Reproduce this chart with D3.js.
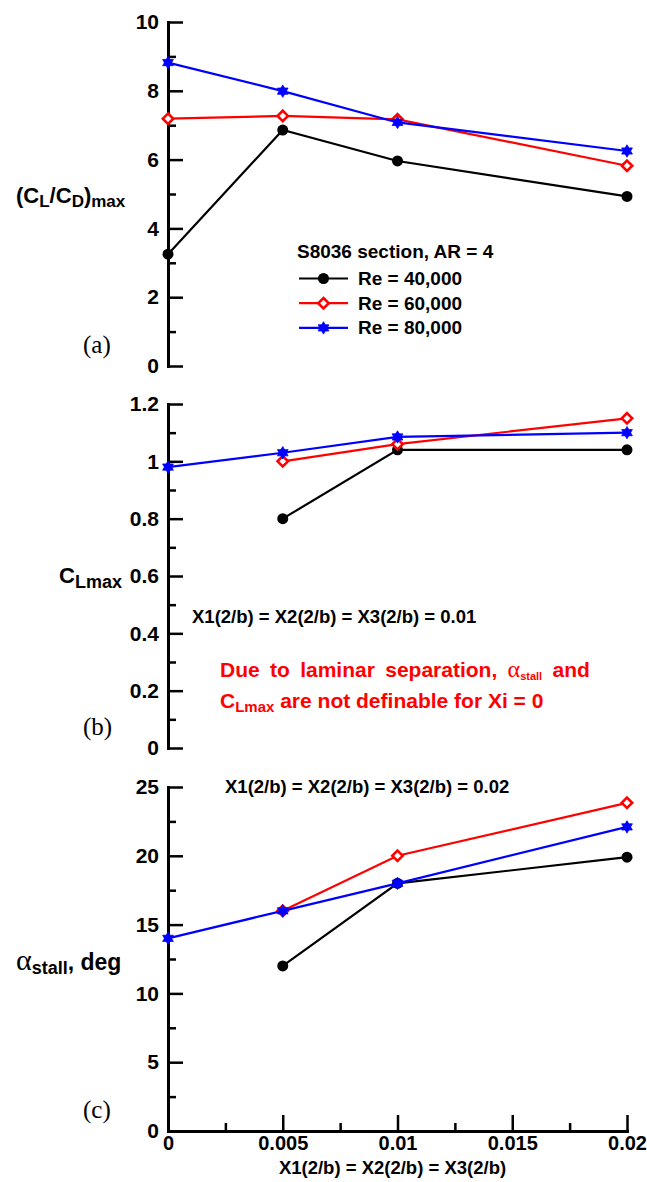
<!DOCTYPE html>
<html>
<head>
<meta charset="utf-8">
<script src="https://cdn.jsdelivr.net/npm/d3@7"></script>
<style>
  body { margin: 0; background: #fff; }
  svg { display: block; }
  text { font-family: "Liberation Sans", Arial, sans-serif; font-weight: bold; fill: #000; }
</style>
</head>
<body>
<svg id="chart" width="647" height="1182"></svg>
<script>
// Trip spacing values (shared x for all panels)
const xValues = [0, 0.005, 0.01, 0.02];
const seriesNames = ["Re = 40,000", "Re = 60,000", "Re = 80,000"];

// (a) maximum lift-to-drag ratio
const ldMax40 = [3.25, 6.86, 5.96, 4.93];
const ldMax60 = [7.19, 7.27, 7.17, 5.82];
const ldMax80 = [8.82, 7.99, 7.08, 6.25];

// (b) maximum lift coefficient (undefined at Xi = 0 for the two lower Re)
const clMax40 = [null, 0.80, 1.04, 1.04];
const clMax60 = [null, 1.00, 1.06, 1.15];
const clMax80 = [0.98, 1.03, 1.085, 1.10];

// (c) stall angle, deg
const aStall40 = [null, 12.0, 18.0, 19.9];
const aStall60 = [null, 16.0, 20.0, 23.85];
const aStall80 = [14.0, 16.0, 18.0, 22.1];

// Axis ticks
const xTicks = [0, 0.005, 0.01, 0.015, 0.02];
const xTickLabels = ["0", "0.005", "0.01", "0.015", "0.02"];
const xMinorTicks = [0.0025, 0.0075, 0.0125, 0.0175];
const ldTicks = [0, 2, 4, 6, 8, 10];
const ldTickLabels = ["0", "2", "4", "6", "8", "10"];
const ldMinorTicks = [1, 3, 5, 7, 9];
const clTicks = [0, 0.2, 0.4, 0.6, 0.8, 1.0, 1.2];
const clTickLabels = ["0", "0.2", "0.4", "0.6", "0.8", "1", "1.2"];
const clMinorTicks = [0.1, 0.3, 0.5, 0.7, 0.9, 1.1];
const aTicks = [0, 5, 10, 15, 20, 25];
const aTickLabels = ["0", "5", "10", "15", "20", "25"];
const aMinorTicks = [2.5, 7.5, 12.5, 17.5, 22.5];

const svg = d3.select("#chart");
const x = d3.scaleLinear().domain([0, 0.02]).range([168, 627]);

const styles = [
  { color: "#000000", marker: "circle" },
  { color: "#ff0000", marker: "diamond" },
  { color: "#0000ff", marker: "star" }
];

const panels = [
  { tag: "(a)", range: [366, 22], domain: [0, 10], ticks: ldTicks, labels: ldTickLabels, minor: ldMinorTicks,
    series: [ldMax40, ldMax60, ldMax80], xAxis: false },
  { tag: "(b)", range: [748, 404], domain: [0, 1.2], ticks: clTicks, labels: clTickLabels, minor: clMinorTicks,
    series: [clMax40, clMax60, clMax80], xAxis: false },
  { tag: "(c)", range: [1131, 787], domain: [0, 25], ticks: aTicks, labels: aTickLabels, minor: aMinorTicks,
    series: [aStall40, aStall60, aStall80], xAxis: true }
];

// Six-pointed star path centred on origin
function hexagram(r) {
  const pts = (off) => d3.range(3).map(i => {
    const a = off + i * 2 * Math.PI / 3;
    return [r * Math.sin(a), -r * Math.cos(a)];
  });
  const tri = p => "M" + p.map(q => q.join(",")).join("L") + "Z";
  return tri(pts(0)) + tri(pts(Math.PI));
}

function drawMarker(g, kind, color, cx, cy) {
  if (kind === "circle") {
    g.append("circle").attr("cx", cx).attr("cy", cy).attr("r", 5.5).attr("fill", color);
  } else if (kind === "diamond") {
    const s = 5.2;
    g.append("path")
      .attr("d", `M${cx},${cy - s}L${cx + s},${cy}L${cx},${cy + s}L${cx - s},${cy}Z`)
      .attr("fill", "#fff").attr("stroke", color).attr("stroke-width", 2.6);
  } else {
    g.append("path").attr("transform", `translate(${cx},${cy})`)
      .attr("d", hexagram(6.2)).attr("fill", color).attr("stroke", color).attr("stroke-width", 0.8)
      .attr("stroke-linejoin", "round");
  }
}

function styleAxis(g, fontSize) {
  g.attr("font-family", null).attr("font-size", null);
  g.select(".domain").attr("stroke", "#000").attr("stroke-width", 3).attr("stroke-linecap", "square");
  g.selectAll(".tick line").attr("stroke", "#000").attr("stroke-width", 2.5);
  g.selectAll(".tick text").attr("fill", "#000").style("font-size", fontSize + "px");
}

panels.forEach(p => {
  const y = d3.scaleLinear().domain(p.domain).range(p.range);
  const g = svg.append("g");

  // y axis: minor then major ticks pointing inward
  const minorY = g.append("g").attr("transform", "translate(168,0)")
    .call(d3.axisLeft(y).tickValues(p.minor).tickSize(-8).tickSizeOuter(0).tickFormat(""));
  styleAxis(minorY, 21);
  const majorY = g.append("g").attr("transform", "translate(168,0)")
    .call(d3.axisLeft(y).tickValues(p.ticks).tickSize(-15).tickSizeOuter(0).tickPadding(9)
      .tickFormat((d, i) => p.labels[i]));
  styleAxis(majorY, 21);

  if (p.xAxis) {
    const minorX = g.append("g").attr("transform", `translate(0,${p.range[0]})`)
      .call(d3.axisBottom(x).tickValues(xMinorTicks).tickSize(-8).tickSizeOuter(0).tickFormat(""));
    styleAxis(minorX, 20);
    const majorX = g.append("g").attr("transform", `translate(0,${p.range[0]})`)
      .call(d3.axisBottom(x).tickValues(xTicks).tickSize(-16).tickSizeOuter(0).tickPadding(5)
        .tickFormat((d, i) => xTickLabels[i]));
    styleAxis(majorX, 20);
  }

  // panel tag
  svg.append("text").attr("x", 83).attr("y", p.range[0] - 13)
    .style("font-family", "'Liberation Serif', 'DejaVu Serif', serif").style("font-weight", "normal")
    .style("font-size", "25px").text(p.tag);

  // series
  const line = d3.line().defined(d => d[1] != null).x(d => x(d[0])).y(d => y(d[1]));
  p.series.forEach((vals, si) => {
    const st = styles[si];
    const pts = xValues.map((xv, i) => [xv, vals[i]]);
    g.append("path").datum(pts).attr("d", line)
      .attr("fill", "none").attr("stroke", st.color).attr("stroke-width", 2.2);
    pts.filter(d => d[1] != null).forEach(d => drawMarker(g, st.marker, st.color, x(d[0]), y(d[1])));
  });
});

// Rich text helper: parts carry their own size and baseline shift
function richText(x0, y0, parts, opts = {}) {
  const t = svg.append("text").attr("x", x0).attr("y", y0);
  if (opts.fill) t.style("fill", opts.fill);
  if (opts.wordSpacing) t.style("word-spacing", opts.wordSpacing + "px");
  let prevShift = 0;
  parts.forEach(pt => {
    const shift = pt.shift || 0;
    const s = t.append("tspan").attr("dy", shift - prevShift).style("font-size", pt.size + "px").text(pt.t);
    if (pt.family) s.style("font-family", pt.family);
    if (pt.weight) s.style("font-weight", pt.weight);
    if (opts.fill) s.style("fill", opts.fill);
    prevShift = shift;
  });
  return t;
}

const serif = "'Liberation Serif', 'DejaVu Serif', serif";

// Axis titles
richText(16, 203, [
  { t: "(", size: 22 }, { t: "C", size: 22 }, { t: "L", size: 17, shift: 4 },
  { t: "/", size: 22 }, { t: "C", size: 22 }, { t: "D", size: 17, shift: 4 },
  { t: ")", size: 22 }, { t: "max", size: 17, shift: 4 }
]);
richText(59, 583, [
  { t: "C", size: 22 }, { t: "Lmax", size: 18, shift: 5 }
]);
richText(16, 970, [
  { t: "\u03B1", size: 30, family: serif, weight: "normal" },
  { t: "stall", size: 18, shift: 4 },
  { t: ", deg", size: 23 }
]);
svg.append("text").attr("x", x(0.01) - 5).attr("y", 1174).attr("text-anchor", "middle")
  .style("font-size", "18.5px").text("X1(2/b) = X2(2/b) = X3(2/b)");

// Legend
const legendTitle = "S8036 section, AR = 4";
svg.append("text").attr("x", 297).attr("y", 258).style("font-size", "19px").text(legendTitle);
seriesNames.forEach((name, i) => {
  const ly = 278.5 + i * 24.7;
  svg.append("line").attr("x1", 299).attr("x2", 348).attr("y1", ly).attr("y2", ly)
    .attr("stroke", styles[i].color).attr("stroke-width", 2.2);
  drawMarker(svg, styles[i].marker, styles[i].color, 323.5, ly);
  svg.append("text").attr("x", 358).attr("y", ly + 6.5).style("font-size", "19px").text(name);
});

// Annotations
svg.append("text").attr("x", 192).attr("y", 623).style("font-size", "18.5px")
  .text("X1(2/b) = X2(2/b) = X3(2/b) = 0.01");
svg.append("text").attr("x", 225).attr("y", 793).style("font-size", "18.5px")
  .text("X1(2/b) = X2(2/b) = X3(2/b) = 0.02");

const red = "#ff0000";
richText(220, 677, [
  { t: "Due to laminar separation, ", size: 21 },
  { t: "\u03B1", size: 24, family: serif, weight: "normal" },
  { t: "stall", size: 11, shift: 3 },
  { t: " and", size: 21 }
], { fill: red, wordSpacing: 4.5 });
richText(220, 708, [
  { t: "C", size: 21 },
  { t: "Lmax", size: 15, shift: 4 },
  { t: " are not definable for Xi = 0", size: 21 }
], { fill: red });
</script>
</body>
</html>
